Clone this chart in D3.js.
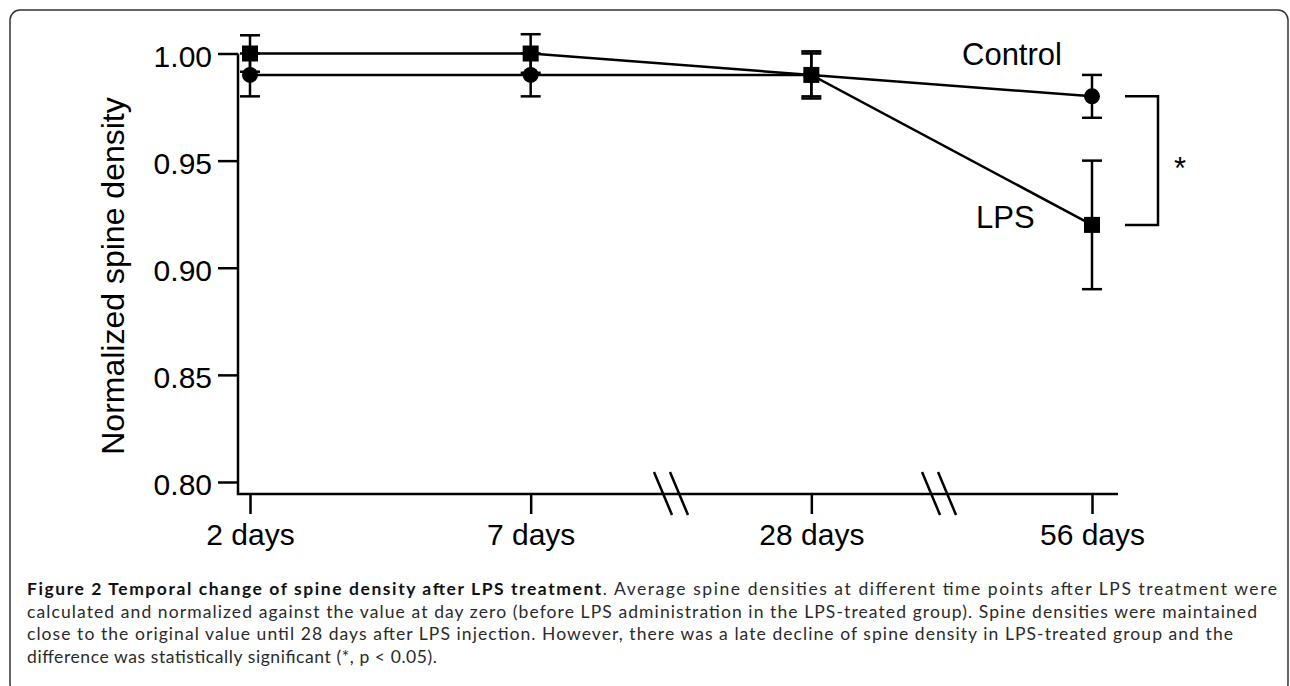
<!DOCTYPE html>
<html>
<head>
<meta charset="utf-8">
<script src="https://cdn.jsdelivr.net/npm/d3@7"></script>
<style>
  body { margin: 0; background: #fff; }
</style>
</head>
<body>
<svg id="chart" width="1290" height="686"></svg>
<script>
/* Spine density over time, control vs LPS */

const timepoints = ["2 days", "7 days", "28 days", "56 days"];
const controlMean = [0.99, 0.99, 0.99, 0.98];
const controlErr = [0.01, 0.01, 0.01, 0.01];
const lpsMean = [1.00, 1.00, 0.99, 0.92];
const lpsErr = [0.0085, 0.009, 0.011, 0.03];
const yTicks = [0.80, 0.85, 0.90, 0.95, 1.00];
const seriesLabels = ["Control", "LPS"];
const signifLabel = "*";
const yLabel = "Normalized spine density";
const captionBold = "Figure 2 Temporal change of spine density after LPS treatment";
const captionLines = [
  ". Average spine densities at different time points after LPS treatment were",
  "calculated and normalized against the value at day zero (before LPS administration in the LPS-treated group). Spine densities were maintained",
  "close to the original value until 28 days after LPS injection. However, there was a late decline of spine density in LPS-treated group and the",
  "difference was statistically significant (*, p < 0.05).",
];


/** Draws an error bar with caps at one timepoint */
function errorBar(g, x, y, t, mean, err) {
  const cx = x(t);
  g.append("line")
    .attr("x1", cx).attr("x2", cx)
    .attr("y1", y(mean + err)).attr("y2", y(mean - err));
  for (const v of [mean + err, mean - err]) {
    g.append("line")
      .attr("x1", cx - 10).attr("x2", cx + 10)
      .attr("y1", y(v)).attr("y2", y(v));
  }
}


function main() {
  const svg = d3.select("#chart");
  const plotFont = "'Liberation Sans', Arial, sans-serif";

  // frame round the whole figure
  svg.append("rect")
    .attr("x", 10).attr("y", 10)
    .attr("width", 1278).attr("height", 684)
    .attr("rx", 10)
    .attr("fill", "none").attr("stroke", "#333").attr("stroke-width", 1.5);

  const x = d3.scalePoint().domain(timepoints).range([250, 1092]);
  const y = d3.scaleLinear().domain([0.80, 1.00]).range([482, 53.5]);
  const axisLeftX = 238;
  const axisBottomY = 494;

  // y axis
  const yAxis = svg.append("g")
    .attr("transform", `translate(${axisLeftX},0)`)
    .call(d3.axisLeft(y).tickValues(yTicks).tickSize(20).tickPadding(6)
      .tickFormat(d3.format(".2f")));
  yAxis.select(".domain").remove();
  yAxis.selectAll("line").attr("stroke", "#000").attr("stroke-width", 2.5);
  yAxis.selectAll("text")
    .attr("font-family", plotFont).attr("font-size", 30)
    .attr("fill", "#000").attr("dy", "0.42em");

  // x axis
  const xAxis = svg.append("g")
    .attr("transform", `translate(0,${axisBottomY})`)
    .call(d3.axisBottom(x).tickSize(20).tickPadding(10));
  xAxis.select(".domain").remove();
  xAxis.selectAll("line").attr("stroke", "#000").attr("stroke-width", 2.5);
  xAxis.selectAll("text")
    .attr("font-family", plotFont).attr("font-size", 30).attr("fill", "#000");

  const axes = svg.append("g")
    .attr("stroke", "#000").attr("stroke-width", 2.5).attr("fill", "none");
  axes.append("path")
    .attr("d", `M${axisLeftX},${y(1.00)}V${axisBottomY}H${x("56 days") + 26}`);

  // axis breaks
  const step = x.step();
  const breaks = [x("7 days") + step * 0.5, x("28 days") + step * 0.455];
  for (const c of breaks) {
    for (const off of [-8, 8]) {
      axes.append("line")
        .attr("x1", c + off - 9).attr("y1", axisBottomY - 22)
        .attr("x2", c + off + 9).attr("y2", axisBottomY + 21);
    }
  }

  svg.append("text")
    .attr("transform", "translate(124,276) rotate(-90)")
    .attr("text-anchor", "middle")
    .attr("font-family", plotFont).attr("font-size", 32)
    .text(yLabel);

  // series
  const marks = svg.append("g")
    .attr("stroke", "#000").attr("stroke-width", 2.5).attr("fill", "none");
  const line = d3.line().x((d) => x(d[0])).y((d) => y(d[1]));
  marks.append("path").attr("d", line(d3.zip(timepoints, controlMean)));
  marks.append("path").attr("d", line(d3.zip(timepoints, lpsMean)));

  timepoints.forEach((t, i) => {
    errorBar(marks, x, y, t, controlMean[i], controlErr[i]);
    errorBar(marks, x, y, t, lpsMean[i], lpsErr[i]);
  });

  svg.append("g").selectAll("circle")
    .data(d3.zip(timepoints, controlMean))
    .join("circle")
    .attr("cx", (d) => x(d[0])).attr("cy", (d) => y(d[1]))
    .attr("r", 8).attr("fill", "#000");

  svg.append("g").selectAll("rect")
    .data(d3.zip(timepoints, lpsMean))
    .join("rect")
    .attr("x", (d) => x(d[0]) - 8).attr("y", (d) => y(d[1]) - 8)
    .attr("width", 16).attr("height", 16).attr("fill", "#000");

  // labels and significance bracket
  const last = timepoints[timepoints.length - 1];
  const xl = x(last);
  svg.append("text")
    .attr("x", 962).attr("y", 65)
    .attr("font-family", plotFont).attr("font-size", 31)
    .text(seriesLabels[0]);
  svg.append("text")
    .attr("x", 976).attr("y", 228)
    .attr("font-family", plotFont).attr("font-size", 31)
    .text(seriesLabels[1]);

  const yc = y(controlMean[3]);
  const yl = y(lpsMean[3]);
  marks.append("path")
    .attr("d", `M${xl + 33},${yc}H${xl + 66}V${yl}H${xl + 33}`);
  svg.append("text")
    .attr("x", xl + 88).attr("y", (yc + yl) / 2 + 18)
    .attr("text-anchor", "middle")
    .attr("font-family", plotFont).attr("font-size", 31)
    .text(signifLabel);

  // caption, ragged right like the original
  const cap = svg.append("g")
    .attr("font-family", "Lato, 'Open Sans', sans-serif")
    .attr("font-size", 17.5).attr("fill", "#2a2a2a");
  const left = 27;
  const baselines = [595, 617.5, 640, 662.5];
  const rightEnds = [1277, 1257, 1233, 437];
  const texts = [];
  const first = cap.append("text").attr("x", left).attr("y", baselines[0]);
  first.append("tspan").attr("font-weight", "bold").attr("fill", "#111")
    .text(captionBold);
  first.append("tspan").text(captionLines[0]);
  texts.push(first);
  for (let i = 1; i < captionLines.length; i++) {
    texts.push(cap.append("text").attr("x", left).attr("y", baselines[i])
      .text(captionLines[i]));
  }
  rightEnds.forEach((r, i) => {
    texts[i].attr("textLength", r - left).attr("lengthAdjust", "spacing");
  });
}

window.onload = main;
</script>
</body>
</html>
